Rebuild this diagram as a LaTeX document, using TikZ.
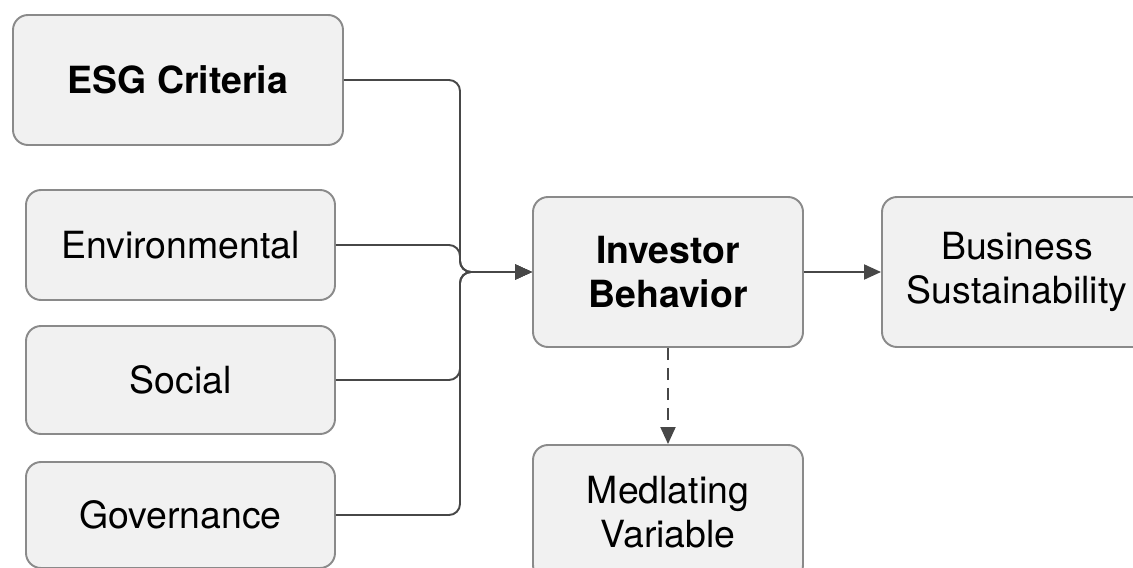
\documentclass[tikz,border=0pt]{standalone}
\usepackage{fontspec}
\setmainfont{TeX Gyre Heros}
\usetikzlibrary{arrows.meta}
\definecolor{boxfill}{HTML}{F1F1F1}
\definecolor{boxline}{HTML}{8A8A8A}
\definecolor{linkgray}{HTML}{474747}

\begin{document}
\begin{tikzpicture}[
    box/.style={draw=boxline,fill=boxfill,line width=1.1pt,rounded corners=0.3cm,
      align=center,inner sep=0pt,font=\fontsize{21.3}{25}\selectfont},
    link/.style={draw=linkgray,line width=1.1pt,rounded corners=0.22cm,
      -{Triangle[length=0.34cm,width=0.3cm]}}]
  \useasboundingbox (0,0) rectangle (22.66,11.34);

  \node[box,minimum width=6.6cm,minimum height=2.6cm,font=\fontsize{21.3}{25}\selectfont\bfseries] (E) at (3.56,9.74) {ESG Criteria};
  \node[box,minimum width=6.18cm,minimum height=2.2cm] (En) at (3.61,6.44) {Environmental};
  \node[box,minimum width=6.18cm,minimum height=2.16cm] (S) at (3.61,3.74) {Social};
  \node[box,minimum width=6.18cm,minimum height=2.12cm] (G) at (3.61,1.04) {Governance};
  \node[box,minimum width=5.4cm,minimum height=3cm,font=\fontsize{21.3}{25}\selectfont\bfseries] (I) at (13.36,5.9) {Investor\\Behavior};
  \node[box,minimum width=5.4cm,minimum height=3cm] (B) at (20.34,5.9) {Business\\Sustainability};
  \node[box,minimum width=5.4cm,minimum height=2.7cm] (M) at (13.36,1.09) {Medlating\\Variable};

  \coordinate (J) at (9.2,5.9);
  \foreach \p in {E,En,S,G}
    \draw[link] (\p.east) -| (J) -- (I.west);
  \draw[link,rounded corners=0pt] (I) -- (B);
  \draw[link,rounded corners=0pt,dash pattern=on 0.24cm off 0.16cm] (I) -- (M);
\end{tikzpicture}
\end{document}
